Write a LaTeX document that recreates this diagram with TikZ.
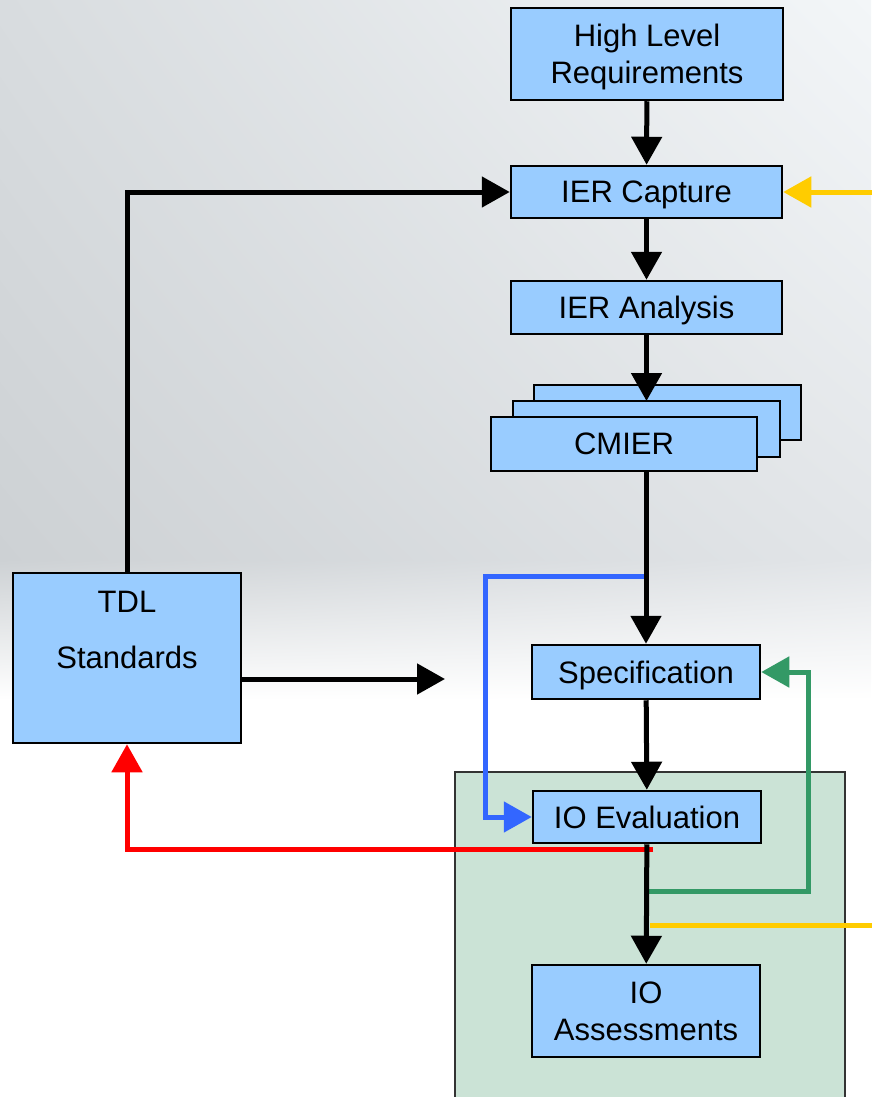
\documentclass[tikz,border=0pt]{standalone}
\usepackage{fontspec}
\setmainfont{Liberation Sans}
\usetikzlibrary{arrows.meta,shadings}
\definecolor{boxblue}{HTML}{99CCFF}
\definecolor{zonegreen}{HTML}{CBE3D6}
\definecolor{lineblue}{HTML}{3366FF}
\definecolor{linegreen}{HTML}{339966}
\definecolor{lineyellow}{HTML}{FFCC00}
\definecolor{bgA}{HTML}{D8DCDF}
\definecolor{bgB}{HTML}{F3F6F8}
\definecolor{bgC}{HTML}{CDD1D4}
\definecolor{bgD}{HTML}{E2E5E8}
\begin{document}
\begin{tikzpicture}[x=1pt,y=-1pt,>={Triangle[length=28pt,width=30pt]},
  blockbox/.style={draw=black,line width=2.5pt,fill=boxblue,inner sep=0pt,align=center,
    text depth=0pt,font=\fontsize{31}{37}\selectfont},
  flow/.style={line width=5pt,->},
  feed/.style={line width=5pt}]

% 背景
\useasboundingbox (0,0) rectangle (871,1097);
\fill[white] (0,0) rectangle (871,1097);
\shade[upper left=bgA, upper right=bgB, lower left=bgC, lower right=bgD] (0,0) rectangle (871,560);
\shade[upper left=bgC, upper right=bgD, lower left=white, lower right=white] (0,560) rectangle (871,700);

% 评估区域
\draw[fill=zonegreen, draw=black!80, line width=2pt] (455,772) rectangle (845,1105);

% 上部方框
\node[blockbox, minimum width=272pt, minimum height=92pt] (hlr) at (647,54) {High Level\\Requirements};
\node[blockbox, minimum width=271pt, minimum height=52pt] (capture) at (646.5,192) {IER Capture};
\node[blockbox, minimum width=271pt, minimum height=53pt] (analysis) at (646.5,307.5) {IER Analysis};
\draw[flow] (hlr) -- (capture);
\draw[flow] (capture) -- (analysis);

% CMIER 叠放
\node[blockbox, minimum width=267pt, minimum height=55pt] (cmierA) at (667.5,412.5) {CMIER};
\coordinate (cmiertip) at (646.5,401);
\draw[flow] (analysis) -- (cmiertip);
\node[blockbox, minimum width=267pt, minimum height=56pt] (cmierB) at (646.5,429) {CMIER};
\node[blockbox, minimum width=266pt, minimum height=54pt] (cmierC) at (624,444) {CMIER};

% 其余方框
\node[blockbox, minimum width=228pt, minimum height=54pt] (spec) at (646,672) {Specification};
\node[blockbox, minimum width=228pt, minimum height=170pt] (tdl) at (127,658) {TDL\\[19pt]Standards\\[19pt]\phantom{X}};
\node[blockbox, minimum width=228pt, minimum height=52pt] (ioeval) at (647,817) {IO Evaluation};
\node[blockbox, minimum width=228pt, minimum height=92pt] (ioassess) at (646,1011) {IO\\Assessments};

% 彩色反馈线
\coordinate (bluestart) at (647,576);
\coordinate (redstart) at (653,849);
\coordinate (greenstart) at (649,891);
\coordinate (yellowstart) at (650,925);
\coordinate (yellowout) at (875,925);
\coordinate (yellowin) at (875,192);
\draw[feed, lineblue, ->] (bluestart) -- (485,576) |- (ioeval.west);
\draw[feed, red, ->] (redstart) -| (tdl.south);
\draw[feed, linegreen, ->] (greenstart) -- (808,891) |- (spec.east);
\draw[feed, lineyellow] (yellowstart) -- (yellowout);
\draw[feed, lineyellow, ->] (yellowin) -- (capture.east);

% 黑色主流程
\coordinate (tdlout) at (445,679);
\draw[flow] (spec.north |- cmierC.south) -- (spec.north);
\draw[flow] (spec) -- (ioeval);
\draw[flow] (ioeval) -- (ioassess);
\draw[flow] (tdl.north) |- (capture.west);
\draw[flow] (tdl.east |- tdlout) -- (tdlout);

\end{tikzpicture}
\end{document}
